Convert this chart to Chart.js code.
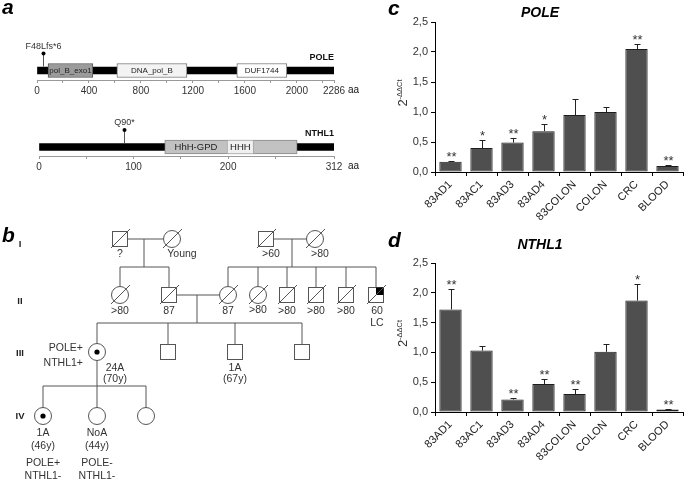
<!DOCTYPE html>
<html>
<head>
<meta charset="utf-8">
<script src="https://cdn.jsdelivr.net/npm/chart.js@4.4.1/dist/chart.umd.min.js"></script>
<style>
  body { margin: 0; background: #fff; }
  #wrap { position: relative; width: 685px; height: 482px; overflow: hidden; background: #fff; }
  canvas, svg { position: absolute; }
  svg { left: 0; top: 0; pointer-events: none; }
</style>
</head>
<body>
<div id="wrap">
  <canvas id="poleMap" style="left:0;top:30px" width="360" height="72"></canvas>
  <canvas id="nthl1Map" style="left:0;top:110px" width="360" height="65"></canvas>
  <canvas id="poleChart" style="left:390px;top:0" width="295" height="240"></canvas>
  <canvas id="nthl1Chart" style="left:390px;top:240px" width="295" height="242"></canvas>
  <svg id="ped" width="685" height="482"></svg>
</div>
<script>
// expression (2^-ddCt) data, panels c and d
const exprLabels = ["83AD1", "83AC1", "83AD3", "83AD4", "83COLON", "COLON", "CRC", "BLOOD"];
const poleValues = [0.17, 0.40, 0.49, 0.68, 0.95, 1.00, 2.05, 0.10];
const poleErrors = [0.01, 0.13, 0.07, 0.12, 0.27, 0.08, 0.08, 0.01];
const poleStars = ["**", "*", "**", "*", "", "", "**", "**"];
const nthl1Values = [1.72, 1.03, 0.21, 0.47, 0.30, 1.01, 1.87, 0.04];
const nthl1Errors = [0.35, 0.08, 0.03, 0.09, 0.09, 0.13, 0.28, 0.01];
const nthl1Stars = ["**", "", "**", "**", "**", "", "*", "**"];
const yTicks = [0, 0.5, 1, 1.5, 2, 2.5];

// protein maps, panel a
const poleLength = 2286;
const poleTicks = [0, 200, 400, 600, 800, 1000, 1200, 1400, 1600, 1800, 2000, 2200, 2286];
const poleTickLabels = [0, 400, 800, 1200, 1600, 2000, 2286];
const poleDomainNames = ["pol_B_exo1", "DNA_pol_B", "DUF1744"];
const poleDomainStart = [85, 615, 1538];
const poleDomainEnd = [430, 1154, 1923];
const poleMutation = "F48Lfs*6";
const poleMutationPos = 48;

const nthl1Length = 312;
const nthl1Ticks = [0, 50, 100, 150, 200, 250, 312];
const nthl1TickLabels = [0, 100, 200, 312];
const nthl1DomainNames = ["HhH-GPD", "HHH"];
const nthl1DomainStart = [133, 199];
const nthl1DomainEnd = [273, 227];
const nthl1LabelEnd = [199, 227];
const nthl1Mutation = "Q90*";
const nthl1MutationPos = 90;

const FONT = '"Liberation Sans", Arial, sans-serif';
Chart.defaults.font.family = FONT;

const makeMap = (id, cfg) => {
  const datasets = [{
    data: [[0, cfg.length]],
    backgroundColor: "#000",
    barThickness: 7,
    grouped: false,
    order: 10,
  }];
  cfg.starts.forEach((s, i) => {
    datasets.push({
      data: [[s, cfg.ends[i]]],
      backgroundColor: cfg.colors[i],
      borderColor: cfg.borders[i],
      borderWidth: 1,
      borderSkipped: false,
      barThickness: 14,
      grouped: false,
      order: cfg.starts.length - i,
    });
  });

  const textPlugin = {
    id: "mapText",
    afterDatasetsDraw(chart) {
      const ctx = chart.ctx;
      const x = chart.scales.x;
      const yMid = (chart.chartArea.top + chart.chartArea.bottom) / 2;
      ctx.save();
      ctx.font = cfg.labelSize + "px " + FONT;
      ctx.fillStyle = "#222";
      ctx.textAlign = "center";
      ctx.textBaseline = "middle";
      cfg.names.forEach((n, i) => {
        const c = x.getPixelForValue((cfg.starts[i] + cfg.labelEnds[i]) / 2);
        ctx.fillText(n, c, yMid + 0.5);
      });
      // mutation lollipop
      const mx = Math.round(x.getPixelForValue(cfg.mutPos)) + 0.5;
      ctx.strokeStyle = "#555";
      ctx.lineWidth = 1;
      ctx.beginPath();
      ctx.moveTo(mx, yMid - 4);
      ctx.lineTo(mx, yMid - 17);
      ctx.stroke();
      ctx.fillStyle = "#000";
      ctx.beginPath();
      ctx.arc(mx, yMid - 17, 2, 0, Math.PI * 2);
      ctx.fill();
      ctx.font = "9px " + FONT;
      ctx.fillStyle = "#333";
      ctx.textBaseline = "alphabetic";
      ctx.fillText(cfg.mutation, mx, yMid - 22);
      // protein name and unit
      ctx.font = "bold 9px " + FONT;
      ctx.fillStyle = "#111";
      ctx.textAlign = "right";
      ctx.fillText(cfg.name, chart.chartArea.right, yMid - 11);
      ctx.font = "10px " + FONT;
      ctx.textAlign = "left";
      ctx.textBaseline = "top";
      ctx.fillText("aa", chart.chartArea.right + 14, chart.chartArea.bottom + 5);
      ctx.restore();
    },
  };

  new Chart(document.getElementById(id), {
    type: "bar",
    data: { labels: [cfg.name], datasets: datasets },
    options: {
      indexAxis: "y",
      responsive: false,
      animation: false,
      layout: { padding: { top: cfg.top, left: cfg.left, right: cfg.right, bottom: 0 } },
      plugins: { legend: { display: false }, tooltip: { enabled: false } },
      scales: {
        y: { display: false },
        x: {
          type: "linear",
          min: 0,
          max: cfg.length,
          afterBuildTicks: (s) => { s.ticks = cfg.ticks.map((v) => ({ value: v })); },
          afterFit: (s) => { s.height = cfg.axisHeight; },
          ticks: {
            autoSkip: false,
            maxRotation: 0,
            padding: 2,
            color: "#333",
            font: { size: 10 },
            callback: (v) => (cfg.tickLabels.includes(v) ? String(v) : ""),
          },
          grid: { drawOnChartArea: false, tickLength: 3, color: "#999" },
          border: { color: "#999" },
        },
      },
    },
    plugins: [textPlugin],
  });
};

makeMap("poleMap", {
  name: "POLE",
  length: poleLength,
  ticks: poleTicks,
  tickLabels: poleTickLabels,
  names: poleDomainNames,
  starts: poleDomainStart,
  ends: poleDomainEnd,
  labelEnds: poleDomainEnd,
  colors: ["#9b9b9b", "#f3f3f3", "#ffffff"],
  borders: ["#555", "#777", "#777"],
  labelSize: 8,
  mutation: poleMutation,
  mutPos: poleMutationPos,
  top: 31, left: 37, right: 26, axisHeight: 22,
});

makeMap("nthl1Map", {
  name: "NTHL1",
  length: nthl1Length,
  ticks: nthl1Ticks,
  tickLabels: nthl1TickLabels,
  names: nthl1DomainNames,
  starts: nthl1DomainStart,
  ends: nthl1DomainEnd,
  labelEnds: nthl1LabelEnd,
  colors: ["#c2c2c2", "#f0f0f0"],
  borders: ["#888", "#aaa"],
  labelSize: 9.5,
  mutation: nthl1Mutation,
  mutPos: nthl1MutationPos,
  top: 28, left: 39, right: 26, axisHeight: 19,
});

const makeExpr = (id, values, errors, stars, top, xHeight) => {
  const errPlugin = {
    id: "errStars",
    afterDatasetsDraw(chart) {
      const ctx = chart.ctx;
      const y = chart.scales.y;
      const meta = chart.getDatasetMeta(0);
      ctx.save();
      ctx.strokeStyle = "#222";
      ctx.lineWidth = 1;
      meta.data.forEach((bar, i) => {
        const x = Math.round(bar.x) + 0.5;
        const yTop = Math.round(y.getPixelForValue(values[i] + errors[i])) + 0.5;
        ctx.beginPath();
        ctx.moveTo(x, bar.y);
        ctx.lineTo(x, yTop);
        ctx.moveTo(x - 3, yTop);
        ctx.lineTo(x + 3, yTop);
        ctx.stroke();
        if (stars[i]) {
          ctx.font = "13px " + FONT;
          ctx.fillStyle = "#333";
          ctx.textAlign = "center";
          ctx.textBaseline = "alphabetic";
          ctx.fillText(stars[i], x, yTop - 1);
        }
      });
      // y axis title 2^-ddCt
      const area = chart.chartArea;
      ctx.translate(17, (area.top + area.bottom) / 2 - 4);
      ctx.rotate(-Math.PI / 2);
      ctx.fillStyle = "#333";
      ctx.textAlign = "left";
      ctx.font = "13px " + FONT;
      const w2 = ctx.measureText("2").width;
      ctx.font = "7.5px " + FONT;
      const ws = ctx.measureText("-\u0394\u0394Ct").width;
      const x0 = -(w2 + ws) / 2;
      ctx.font = "13px " + FONT;
      ctx.fillText("2", x0, 0);
      ctx.font = "7.5px " + FONT;
      ctx.fillText("-\u0394\u0394Ct", x0 + w2, -5);
      ctx.restore();
    },
  };

  new Chart(document.getElementById(id), {
    type: "bar",
    data: {
      labels: exprLabels,
      datasets: [{
        data: values,
        backgroundColor: "#4f4f4f",
        borderColor: "#1e1e1e",
        borderWidth: 1,
        borderSkipped: false,
        barPercentage: 0.72,
        categoryPercentage: 1,
      }],
    },
    options: {
      responsive: false,
      animation: false,
      layout: { padding: { top: top, right: 2, left: 0, bottom: 0 } },
      plugins: { legend: { display: false }, tooltip: { enabled: false } },
      scales: {
        y: {
          min: 0,
          max: 2.5,
          afterBuildTicks: (s) => { s.ticks = yTicks.map((v) => ({ value: v })); },
          afterFit: (s) => { s.width = 45; },
          ticks: {
            padding: 3,
            color: "#333",
            font: { size: 11 },
            callback: (v) => v.toFixed(1).replace(".", ","),
          },
          grid: { drawOnChartArea: false, tickLength: 4, color: "#000" },
          border: { color: "#000" },
        },
        x: {
          afterFit: (s) => { s.height = xHeight; },
          ticks: {
            autoSkip: false,
            minRotation: 45,
            maxRotation: 45,
            padding: 2,
            color: "#222",
            font: { size: 11 },
          },
          grid: { drawOnChartArea: false, tickLength: 4, color: "#000", offset: true },
          border: { color: "#000" },
        },
      },
    },
    plugins: [errPlugin],
  });
};

makeExpr("poleChart", poleValues, poleErrors, poleStars, 22, 68);
makeExpr("nthl1Chart", nthl1Values, nthl1Errors, nthl1Stars, 23, 70);

// pedigree (panel b) and panel labels
let lines = "";
let shapes = "";
let texts = "";
const L = (x1, y1, x2, y2) => { lines += `<line x1="${x1}" y1="${y1}" x2="${x2}" y2="${y2}"/>`; };
const T = (x, y, s, anchor = "middle", style = "") => {
  texts += `<text x="${x}" y="${y}" text-anchor="${anchor}" style="${style}">${s}</text>`;
};
const SQ = (x, y, dead, quad) => {
  shapes += `<rect x="${x - 7.5}" y="${y - 7.5}" width="15" height="15" fill="#fff"/>`;
  if (quad) shapes += `<rect x="${x}" y="${y - 7.5}" width="7.5" height="7.5" fill="#000" stroke="none"/>`;
  if (dead) shapes += `<line x1="${x - 9}" y1="${y + 9}" x2="${x + 10}" y2="${y - 10}"/>`;
};
const CI = (x, y, dead, dot) => {
  shapes += `<circle cx="${x}" cy="${y}" r="8.5" fill="#fff"/>`;
  if (dot) shapes += `<circle cx="${x}" cy="${y}" r="2.6" fill="#000" stroke="none"/>`;
  if (dead) shapes += `<line x1="${x - 9}" y1="${y + 9}" x2="${x + 10}" y2="${y - 10}"/>`;
};

// generation I
L(127, 239, 164, 239); L(144, 239, 144, 267); L(120, 267, 169, 267);
L(120, 267, 120, 287); L(169, 267, 169, 288);
SQ(120, 239, true); CI(172, 239, true);
T(120, 257, "?"); T(182, 257, "Young");
L(273, 239, 307, 239); L(292, 239, 292, 267); L(228, 267, 376, 267);
[228, 258, 287, 316, 346, 376].forEach((x) => L(x, 267, x, 288));
SQ(266, 239, true); CI(315, 239, true);
T(271, 257, "&gt;60"); T(320, 257, "&gt;80");

// generation II
L(176, 295, 220, 295); L(197, 295, 197, 323); L(97, 323, 302, 323);
CI(120, 295, true); SQ(169, 295, true); CI(228, 295, true); CI(258, 295, true);
SQ(287, 295, true); SQ(316, 295, true); SQ(346, 295, true); SQ(376, 295, true, true);
T(120, 314, "&gt;80"); T(169, 314, "87"); T(228, 314, "87"); T(258, 313, "&gt;80");
T(287, 314, "&gt;80"); T(316, 314, "&gt;80"); T(346, 314, "&gt;80"); T(377, 314, "60"); T(377, 326, "LC");

// generation III
L(97, 323, 97, 344); [168, 235, 302].forEach((x) => L(x, 323, x, 345));
CI(97, 352, false, true); SQ(168, 352); SQ(235, 352); SQ(302, 352);
T(83, 351, "POLE+", "end"); T(83, 366, "NTHL1+", "end");
T(115, 371, "24A"); T(115, 382, "(70y)");
T(235, 371, "1A"); T(235, 382, "(67y)");
L(97, 360, 97, 386); L(43, 386, 146, 386);
[43, 97, 146].forEach((x) => L(x, 386, x, 408));

// generation IV
CI(43, 416, false, true); CI(97, 416, false); CI(146, 416, false);
T(43, 436, "1A"); T(43, 449, "(46y)"); T(43, 466, "POLE+"); T(43, 479, "NTHL1-");
T(97, 436, "NoA"); T(97, 449, "(44y)"); T(97, 466, "POLE-"); T(97, 479, "NTHL1-");

// generation numerals
const gen = "font-weight:bold;font-size:9.5px;fill:#222";
T(20, 247, "I", "middle", gen); T(20, 304, "II", "middle", gen);
T(20, 356, "III", "middle", gen); T(20, 419, "IV", "middle", gen);

// panel letters and titles
const big = "font-weight:bold;font-style:italic;font-size:21px;fill:#000";
T(2, 14, "a", "start", big); T(2, 242, "b", "start", big);
T(388, 15, "c", "start", big); T(388, 247, "d", "start", big);
const ttl = "font-weight:bold;font-style:italic;font-size:14px;fill:#000";
T(540, 17, "POLE", "middle", ttl); T(540, 249, "NTHL1", "middle", ttl);

document.getElementById("ped").innerHTML =
  `<g stroke="#555" stroke-width="1" fill="none">${lines}${shapes}</g>` +
  `<g font-family='${FONT}' font-size="10.5" fill="#333">${texts}</g>`;
</script>
</body>
</html>
